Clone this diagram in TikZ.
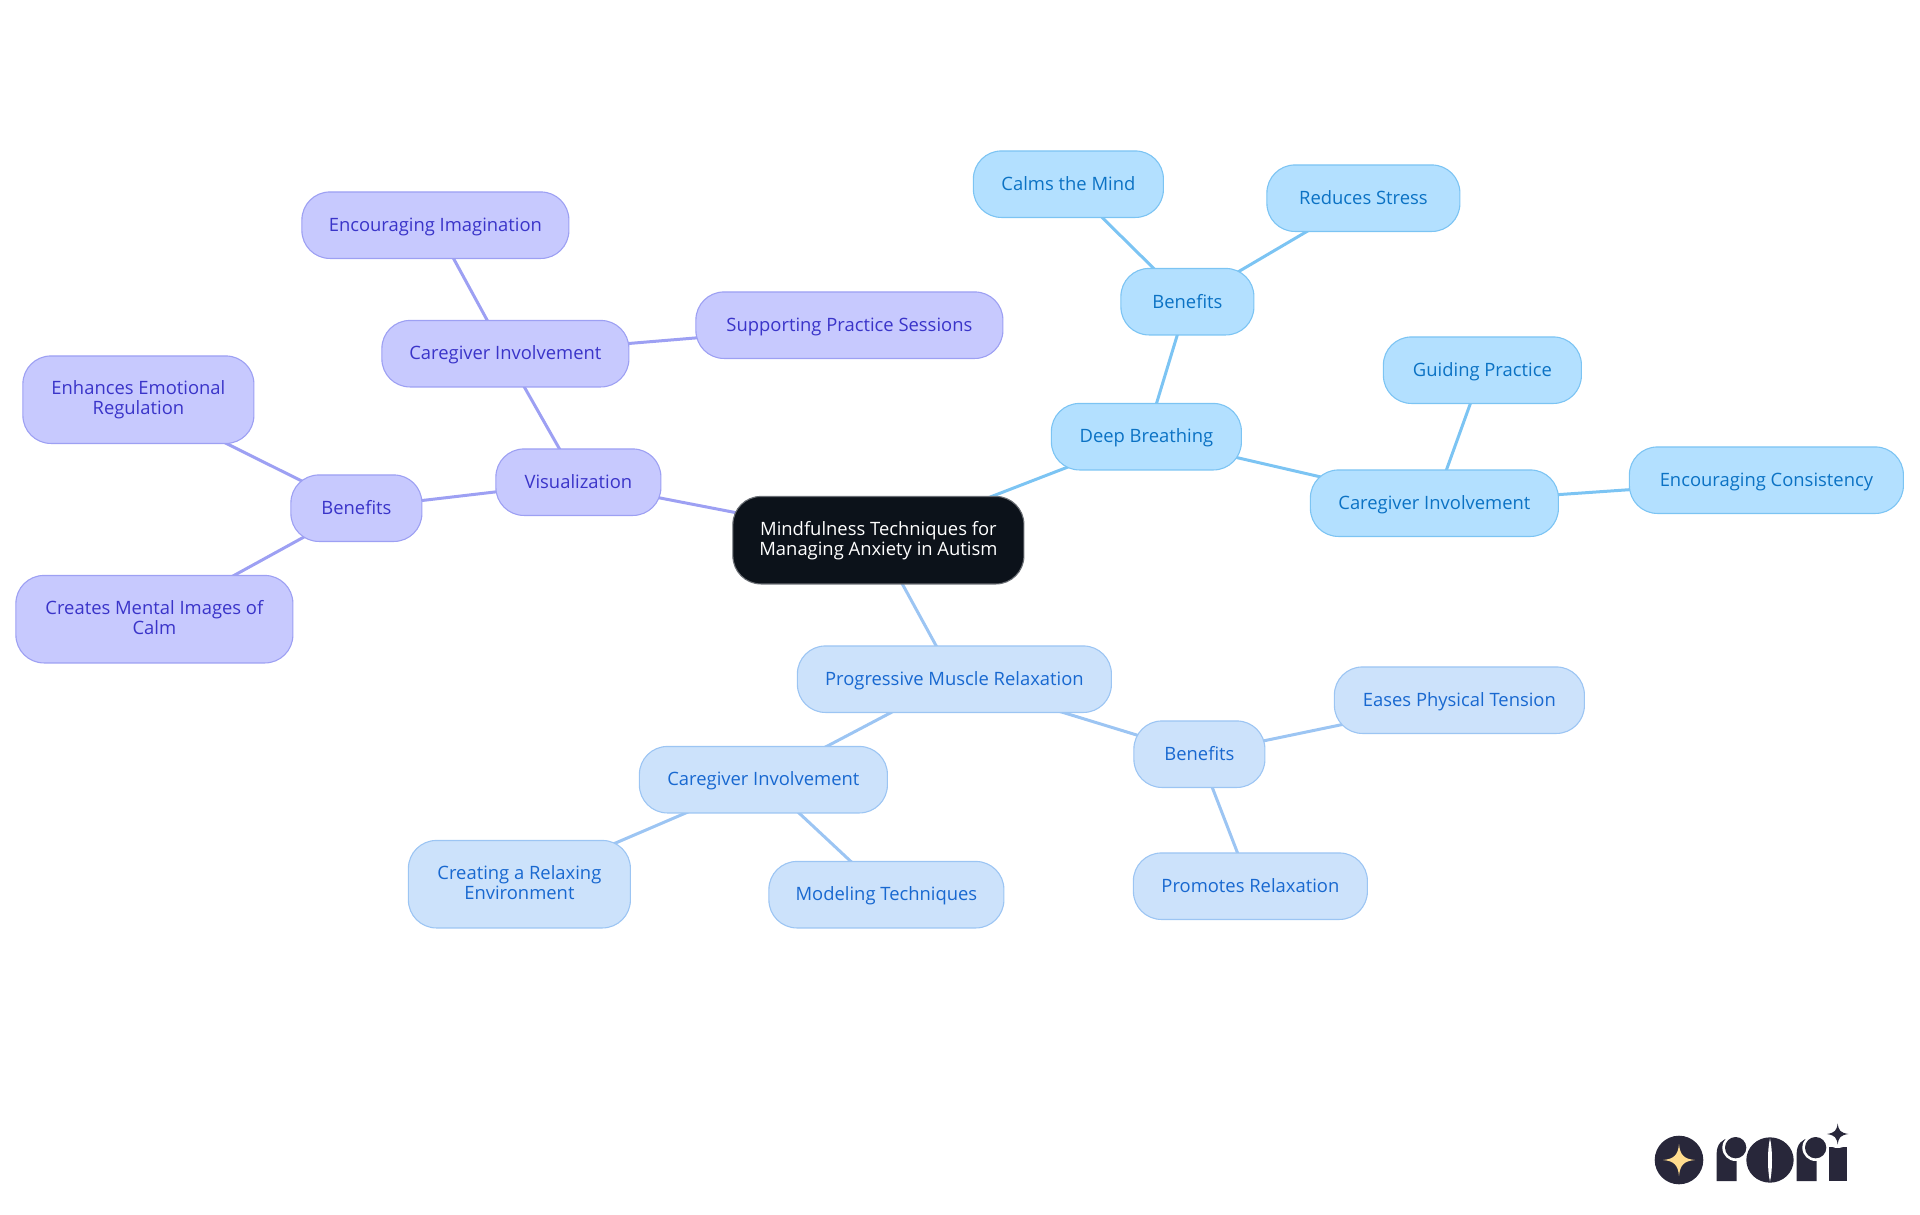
\documentclass[tikz,border=0pt]{standalone}
\usepackage{fontspec}
\setmainfont{Open Sans}
\usepackage{xcolor}
\usepackage{tikz}
\usetikzlibrary{positioning,backgrounds}
\definecolor{rootfill}{HTML}{0C121A}
\definecolor{rootedge}{HTML}{6A6E74}
\definecolor{purplefill}{HTML}{C7C9FE}
\definecolor{purpleedge}{HTML}{9DA0F3}
\definecolor{purpletext}{HTML}{3A34C9}
\definecolor{bluefill}{HTML}{B3E0FF}
\definecolor{blueedge}{HTML}{7CC4F3}
\definecolor{bluetext}{HTML}{0B72C4}
\definecolor{palefill}{HTML}{CCE2FB}
\definecolor{paleedge}{HTML}{9CC5F3}
\definecolor{paletext}{HTML}{1868D0}
\definecolor{logodark}{HTML}{28273A}
\definecolor{logostar}{HTML}{FFDC8E}
\newcommand{\boxstrut}{\rule[-3.5pt]{0pt}{20pt}}
\tikzstyle{block} = [rectangle, draw, line width=1.1pt, rounded corners=28pt, align=center, inner sep=0pt,
minimum height=66.5pt, font=\fontsize{18.4}{20}\selectfont, execute at begin node=\boxstrut, execute at end node=\boxstrut]
\tikzstyle{rootblock} = [block, fill=rootfill, draw=rootedge, text=white, minimum height=87.5pt]
\tikzstyle{purpleblock} = [block, fill=purplefill, draw=purpleedge, text=purpletext]
\tikzstyle{blueblock} = [block, fill=bluefill, draw=blueedge, text=bluetext]
\tikzstyle{paleblock} = [block, fill=palefill, draw=paleedge, text=paletext]
\tikzstyle{purpleline} = [draw=purpleedge, line width=3pt]
\tikzstyle{blueline} = [draw=blueedge, line width=3pt]
\tikzstyle{paleline} = [draw=paleedge, line width=3pt]
\tikzstyle{logoshape} = [fill=logodark, draw=none]

\begin{document}
\begin{tikzpicture}[x=1pt, y=1pt, node distance=100pt]
    \useasboundingbox (0,0) rectangle (1920,-1215);
    % nodes
    \node (root) [rootblock, minimum width=291pt] at (878.4,-540.2) {Mindfulness Techniques for\\Managing Anxiety in Autism};

    \node (visual) [purpleblock, minimum width=165pt, left of=root, xshift=-200pt, yshift=58pt] {Visualization};
    \node (visben) [purpleblock, minimum width=131pt, left of=visual, xshift=-122pt, yshift=-26pt] {Benefits};
    \node (enhance) [purpleblock, minimum width=231pt, minimum height=87.5pt, above of=visben, xshift=-218pt, yshift=8.5pt] {Enhances Emotional\\Regulation};
    \node (images) [purpleblock, minimum width=277pt, minimum height=87.5pt, below of=visben, xshift=-202pt, yshift=-11pt] {Creates Mental Images of\\Calm};
    \node (viscare) [purpleblock, minimum width=247pt, above of=visual, xshift=-73pt, yshift=28.5pt] {Caregiver Involvement};
    \node (imagine) [purpleblock, minimum width=267pt, above of=viscare, xshift=-70pt, yshift=28.5pt] {Encouraging Imagination};
    \node (support) [purpleblock, minimum width=307pt, right of=viscare, xshift=244pt, yshift=28.5pt] {Supporting Practice Sessions};

    \node (deep) [blueblock, minimum width=190pt, right of=root, xshift=168pt, yshift=103.5pt] {Deep Breathing};
    \node (deepben) [blueblock, minimum width=133pt, above of=deep, xshift=41pt, yshift=35pt] {Benefits};
    \node (calms) [blueblock, minimum width=190pt, above of=deepben, xshift=-119pt, yshift=17.5pt] {Calms the Mind};
    \node (stress) [blueblock, minimum width=193pt, above of=deepben, xshift=176pt, yshift=3.5pt] {Reduces Stress};
    \node (deepcare) [blueblock, minimum width=248pt, right of=deep, xshift=188pt, yshift=-66.5pt] {Caregiver Involvement};
    \node (guiding) [blueblock, minimum width=198pt, above of=deepcare, xshift=48pt, yshift=33pt] {Guiding Practice};
    \node (consist) [blueblock, minimum width=274pt, right of=deepcare, xshift=232pt, yshift=23pt] {Encouraging Consistency};

    \node (muscle) [paleblock, minimum width=314pt, below of=root, xshift=76pt, yshift=-39pt] {Progressive Muscle Relaxation};
    \node (musben) [paleblock, minimum width=131pt, right of=muscle, xshift=145pt, yshift=-75pt] {Benefits};
    \node (tension) [paleblock, minimum width=250pt, right of=musben, xshift=160pt, yshift=54pt] {Eases Physical Tension};
    \node (promote) [paleblock, minimum width=234pt, below of=musben, xshift=51pt, yshift=-32pt] {Promotes Relaxation};
    \node (muscare) [paleblock, minimum width=248pt, below of=muscle, xshift=-191pt, yshift=-0.5pt] {Caregiver Involvement};
    \node (environ) [paleblock, minimum width=222pt, minimum height=87.5pt, below of=muscare, xshift=-244pt, yshift=-4.5pt] {Creating a Relaxing\\Environment};
    \node (model) [paleblock, minimum width=235pt, below of=muscare, xshift=123pt, yshift=-15pt] {Modeling Techniques};

    % edges
    \begin{scope}[on background layer]
        \path [purpleline] (root.center) -- (visual.center);
        \path [purpleline] (visual.center) -- (visben.center);
        \path [purpleline] (visben.center) -- (enhance.center);
        \path [purpleline] (visben.center) -- (images.center);
        \path [purpleline] (visual.center) -- (viscare.center);
        \path [purpleline] (viscare.center) -- (imagine.center);
        \path [purpleline] (viscare.center) -- (support.center);
        \path [blueline] (root.center) -- (deep.center);
        \path [blueline] (deep.center) -- (deepben.center);
        \path [blueline] (deepben.center) -- (calms.center);
        \path [blueline] (deepben.center) -- (stress.center);
        \path [blueline] (deep.center) -- (deepcare.center);
        \path [blueline] (deepcare.center) -- (guiding.center);
        \path [blueline] (deepcare.center) -- (consist.center);
        \path [paleline] (root.center) -- (muscle.center);
        \path [paleline] (muscle.center) -- (musben.center);
        \path [paleline] (musben.center) -- (tension.center);
        \path [paleline] (musben.center) -- (promote.center);
        \path [paleline] (muscle.center) -- (muscare.center);
        \path [paleline] (muscare.center) -- (environ.center);
        \path [paleline] (muscare.center) -- (model.center);
    \end{scope}

    % logo
    \fill [logodark] (1679,-1160) circle (24.3);
    \fill [logostar] (1679,-1144) .. controls (1680,-1155) and (1684,-1159) .. (1695,-1160)
        .. controls (1684,-1161) and (1680,-1165) .. (1679,-1176)
        .. controls (1678,-1165) and (1674,-1161) .. (1663,-1160)
        .. controls (1674,-1159) and (1678,-1155) .. (1679,-1144) -- cycle;
    \begin{scope}[shift={(1620,-1100)}, x=0.3333pt, y=-0.3333pt]
        % r
        \path [logoshape] (290,243) -- (290,160) .. controls (290,135) and (305,115) .. (330,115) -- (350,180) -- (350,243) -- cycle;
        \fill [white] (347,143) circle (40);
        \fill [logodark] (347,143) circle (32);
        % o
        \fill [logodark] (450,180) ellipse (71 and 68);
        \fill [white] (450,115) .. controls (442,150) and (442,210) .. (450,245) .. controls (458,210) and (458,150) .. (450,115) -- cycle;
        % r
        \path [logoshape] (530,243) -- (530,160) .. controls (530,135) and (545,115) .. (570,115) -- (590,180) -- (590,243) -- cycle;
        % i
        \path [logoshape] (627,243) -- (627,140) -- (680,140) -- (680,243) -- cycle;
        \fill [white] (587,143) circle (40);
        \fill [logodark] (587,143) circle (32);
        % spark
        \fill [white] (653,102) circle (42);
        \fill [logodark] (653,70) .. controls (656,92) and (661,98) .. (685,102)
            .. controls (661,106) and (656,112) .. (653,134)
            .. controls (650,112) and (645,106) .. (621,102)
            .. controls (645,98) and (650,92) .. (653,70) -- cycle;
    \end{scope}
\end{tikzpicture}
\end{document}
